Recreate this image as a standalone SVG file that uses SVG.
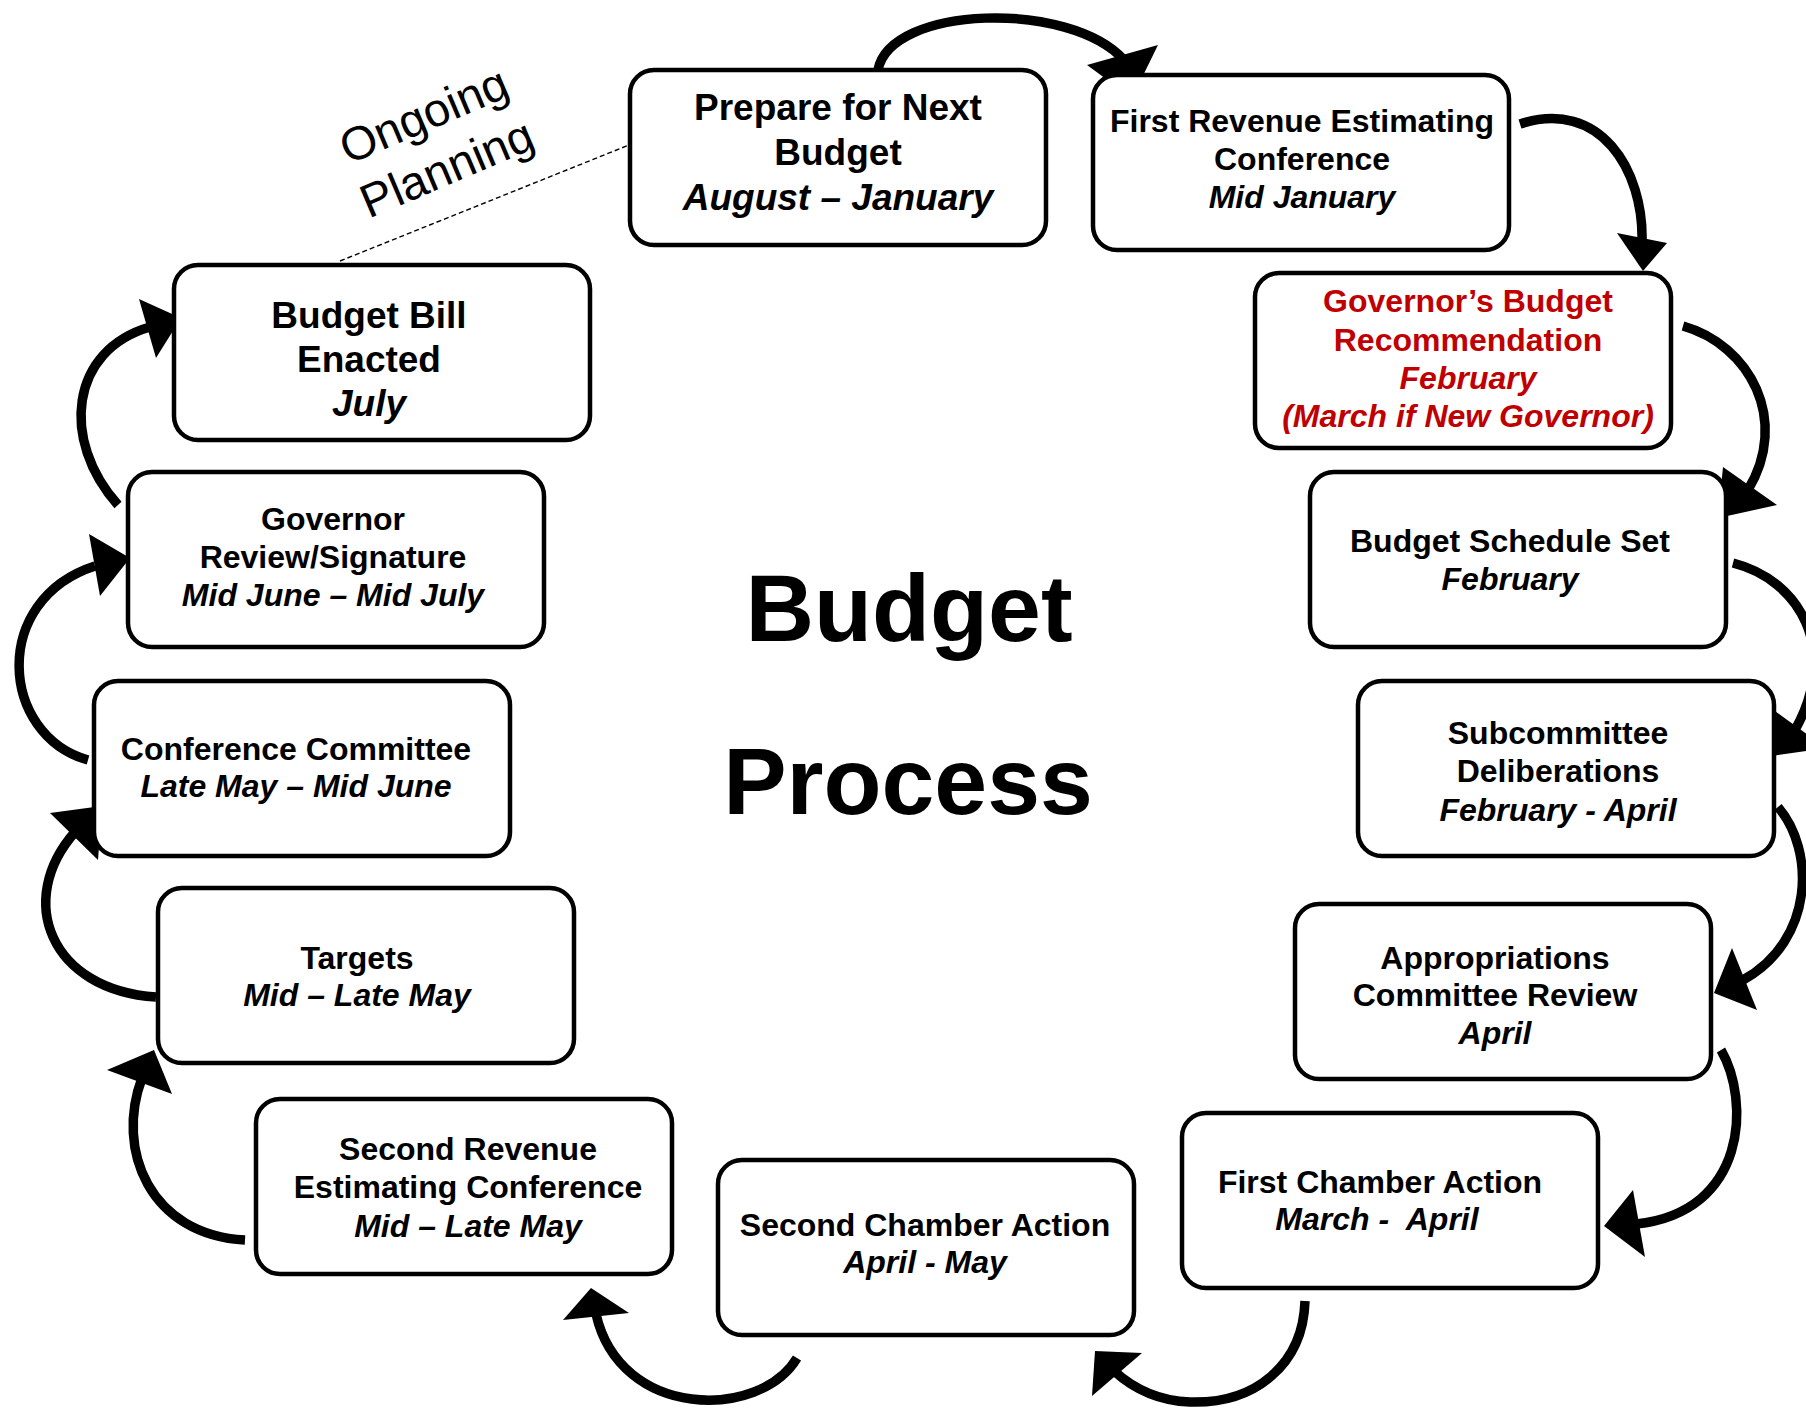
<svg xmlns="http://www.w3.org/2000/svg" width="1806" height="1408" viewBox="0 0 1806 1408">
<style>
.box{fill:#fff;stroke:#000;stroke-width:4.5}
.t{font-family:"Liberation Sans",Arial,sans-serif;font-weight:bold;font-size:32px;text-anchor:middle;fill:#000}
.i{font-style:italic}
.big{font-size:37px}
.red{fill:#C00000}
.conn{fill:none;stroke:#000;stroke-width:9.5}
.head{fill:#000;stroke:none}
.title{font-family:"Liberation Sans",Arial,sans-serif;font-weight:bold;font-size:95px;text-anchor:middle;fill:#000}
.note{font-family:"Liberation Sans",Arial,sans-serif;font-size:47px;text-anchor:middle;fill:#000}
</style>
<rect width="1806" height="1408" fill="#fff"/>
<g id="connectors">
<path class="conn" d="M878,70 C890,5 1070,0 1124,60"/>
<polygon class="head" points="1087,65 1158,45 1132,98"/>
<path class="conn" d="M1520,124 C1600,98 1644,170 1642,242"/>
<polygon class="head" points="1617,233 1667,243 1643,271"/>
<path class="conn" d="M1683,326 C1750,345 1790,420 1748,490"/>
<polygon class="head" points="1723,467 1777,505 1718,518"/>
<path class="conn" d="M1733,563 C1800,580 1840,650 1795,730"/>
<polygon class="head" points="1768,706 1826,748 1765,757"/>
<path class="conn" d="M1778,807 C1815,850 1815,940 1743,980"/>
<polygon class="head" points="1732,948 1757,1010 1714,993"/>
<path class="conn" d="M1721,1050 C1750,1100 1748,1212 1636,1224"/>
<polygon class="head" points="1633,1190 1645,1257 1604,1226"/>
<path class="conn" d="M1305,1301 C1303,1365 1255,1404 1190,1402 C1160,1401 1135,1390 1114,1371"/>
<polygon class="head" points="1142,1353 1092,1396 1095,1351"/>
<path class="conn" d="M797,1358 C760,1420 620,1420 596,1314"/>
<polygon class="head" points="563,1320 629,1313 591,1288"/>
<path class="conn" d="M245,1240 C150,1235 115,1150 142,1078"/>
<polygon class="head" points="107,1070 172,1094 154,1050"/>
<path class="conn" d="M156,997 C50,990 15,900 75,832"/>
<polygon class="head" points="50,813 98,860 102,806"/>
<path class="conn" d="M88,760 C0,735 -10,600 95,566"/>
<polygon class="head" points="89,534 100,596 130,558"/>
<path class="conn" d="M118,505 C60,440 70,350 150,327"/>
<polygon class="head" points="139,299 156,358 181,318"/>
<line x1="340" y1="261" x2="629" y2="145" stroke="#000" stroke-width="1.4" stroke-dasharray="5,3"/>
</g>
<g id="ongoing-planning">
<text class="note" transform="translate(430,130) rotate(-23)">Ongoing</text>
<text class="note" transform="translate(453,183) rotate(-23)">Planning</text>
</g>
<g id="center-title">
<text class="title" x="909" y="641">Budget</text>
<text class="title" x="908" y="814">Process</text>
</g>
<g id="n1">
<rect class="box" x="630" y="70" width="416" height="175" rx="24"/>
<text class="t big" x="838" y="120">Prepare for Next</text>
<text class="t big" x="838" y="165">Budget</text>
<text class="t big i" x="838" y="210">August – January</text>
</g>
<g id="n2">
<rect class="box" x="1093" y="75" width="416" height="175" rx="24"/>
<text class="t" x="1302" y="132">First Revenue Estimating</text>
<text class="t" x="1302" y="170">Conference</text>
<text class="t i" x="1302" y="208">Mid January</text>
</g>
<g id="n3">
<rect class="box" x="1255" y="273" width="416" height="175" rx="24"/>
<text class="t red" x="1468" y="312">Governor’s Budget</text>
<text class="t red" x="1468" y="351">Recommendation</text>
<text class="t i red" x="1468" y="389">February</text>
<text class="t i red" x="1468" y="427">(March if New Governor)</text>
</g>
<g id="n4">
<rect class="box" x="1310" y="472" width="416" height="175" rx="24"/>
<text class="t" x="1510" y="552">Budget Schedule Set</text>
<text class="t i" x="1510" y="590">February</text>
</g>
<g id="n5">
<rect class="box" x="1358" y="681" width="416" height="175" rx="24"/>
<text class="t" x="1558" y="744">Subcommittee</text>
<text class="t" x="1558" y="782">Deliberations</text>
<text class="t i" x="1558" y="821">February - April</text>
</g>
<g id="n6">
<rect class="box" x="1295" y="904" width="416" height="175" rx="24"/>
<text class="t" x="1495" y="969">Appropriations</text>
<text class="t" x="1495" y="1006">Committee Review</text>
<text class="t i" x="1495" y="1044">April</text>
</g>
<g id="n7">
<rect class="box" x="1182" y="1113" width="416" height="175" rx="24"/>
<text class="t" x="1380" y="1193">First Chamber Action</text>
<text class="t i" x="1377" y="1230" xml:space="preserve">March -  April</text>
</g>
<g id="n8">
<rect class="box" x="718" y="1160" width="416" height="175" rx="24"/>
<text class="t" x="925" y="1236">Second Chamber Action</text>
<text class="t i" x="925" y="1273">April - May</text>
</g>
<g id="n9">
<rect class="box" x="256" y="1099" width="416" height="175" rx="24"/>
<text class="t" x="468" y="1160">Second Revenue</text>
<text class="t" x="468" y="1198">Estimating Conference</text>
<text class="t i" x="468" y="1237">Mid – Late May</text>
</g>
<g id="n10">
<rect class="box" x="158" y="888" width="416" height="175" rx="24"/>
<text class="t" x="357" y="969">Targets</text>
<text class="t i" x="357" y="1006">Mid – Late May</text>
</g>
<g id="n11">
<rect class="box" x="94" y="681" width="416" height="175" rx="24"/>
<text class="t" x="296" y="760">Conference Committee</text>
<text class="t i" x="296" y="797">Late May – Mid June</text>
</g>
<g id="n12">
<rect class="box" x="128" y="472" width="416" height="175" rx="24"/>
<text class="t" x="333" y="530">Governor</text>
<text class="t" x="333" y="568">Review/Signature</text>
<text class="t i" x="333" y="606">Mid June – Mid July</text>
</g>
<g id="n13">
<rect class="box" x="174" y="265" width="416" height="175" rx="24"/>
<text class="t big" x="369" y="328">Budget Bill</text>
<text class="t big" x="369" y="372">Enacted</text>
<text class="t big i" x="369" y="416">July</text>
</g>
</svg>
